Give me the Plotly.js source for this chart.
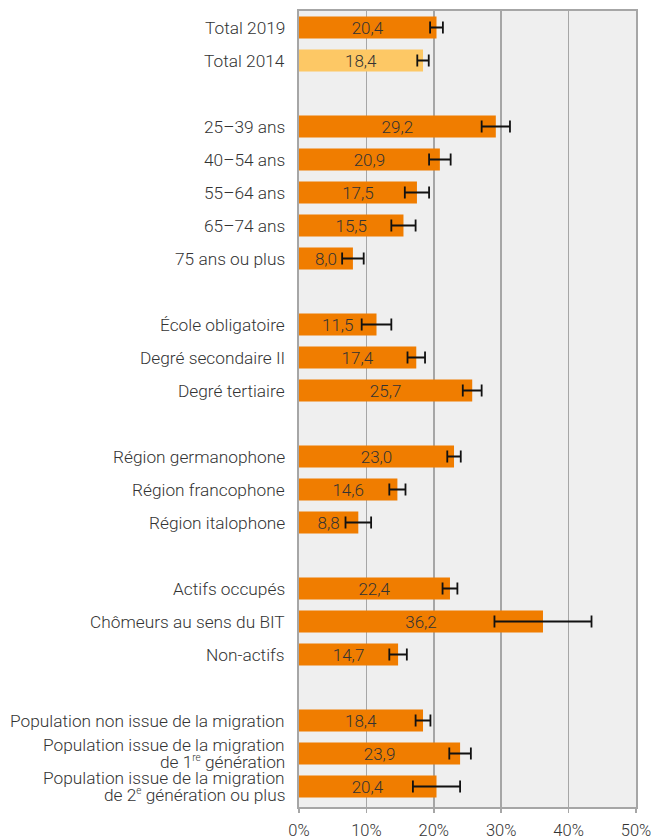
<!DOCTYPE html>
<html>
<head>
<meta charset="utf-8">
<script src="https://cdn.plot.ly/plotly-3.0.1.min.js"></script>
<style>html,body{margin:0;padding:0;background:#fff;}#chart{width:652px;height:840px;}</style>
</head>
<body>
<div id="chart"></div>
<script>
const categories = [
  "Total 2019", "Total 2014", " ",
  "25–39 ans", "40–54 ans", "55–64 ans", "65–74 ans", "75 ans ou plus", "  ",
  "École obligatoire", "Degré secondaire II", "Degré tertiaire", "   ",
  "Région germanophone", "Région francophone", "Région italophone", "    ",
  "Actifs occupés", "Chômeurs au sens du BIT", "Non-actifs", "     ",
  "Population non issue de la migration",
  "Population issue de la migration<br>de 1<sup><span style=\"font-size:10px\">re</span></sup> génération",
  "Population issue de la migration<br>de 2<sup><span style=\"font-size:10px\">e</span></sup> génération ou plus"
];
const values = [
  20.4, 18.4, null,
  29.2, 20.9, 17.5, 15.5, 8.0, null,
  11.5, 17.4, 25.7, null,
  23.0, 14.6, 8.8, null,
  22.4, 36.2, 14.7, null,
  18.4, 23.9, 20.4
];
const errors = [
  0.95, 0.85, null,
  2.1, 1.6, 1.8, 1.8, 1.6, null,
  2.2, 1.3, 1.4, null,
  1.0, 1.2, 1.9, null,
  1.1, 7.2, 1.3, null,
  1.1, 1.6, 3.5
];
const highlight = ["Total 2014"];
const xTicks = [0, 10, 20, 30, 40, 50];
const xTickLabels = ["0%", "10%", "20%", "30%", "40%", "50%"];

const ORANGE = "#f07d00", LIGHT = "#fdc865";
const FONT = "Roboto, sans-serif";
const TXT = "#333333";
const colors = categories.map(c => highlight.includes(c) ? LIGHT : ORANGE);
const labels = values.map(v => v === null ? "" : v.toFixed(1).replace(".", ","));

const trace = {
  type: "bar",
  orientation: "h",
  y: categories,
  x: values,
  width: 0.66,
  marker: {color: colors, line: {width: 0}},
  text: labels,
  textposition: "inside",
  insidetextanchor: "middle",
  textangle: 0,
  constraintext: "none",
  textfont: {family: FONT, size: 17, color: TXT, weight: 300},
  error_x: {type: "data", array: errors, visible: true, color: "#111111", thickness: 1.8, width: 6},
  hoverinfo: "none",
  cliponaxis: false
};

// category labels as annotations (tight line spacing for two-line labels)
const annotations = [];
const LH = 17;
categories.forEach(c => {
  if (!c.trim()) return;
  const lines = c.split("<br>");
  lines.forEach((ln, i) => {
    annotations.push({
      xref: "paper", yref: "y", x: 0, y: c,
      xanchor: "right", yanchor: "middle",
      xshift: -12, yshift: ((lines.length - 1) / 2 - i) * LH,
      text: ln, showarrow: false,
      font: {family: FONT, size: 17.3, color: TXT, weight: 300}
    });
  });
});

const layout = {
  width: 652, height: 840,
  margin: {l: 299, r: 16, t: 11, b: 33, pad: 0},
  paper_bgcolor: "#ffffff",
  plot_bgcolor: "#efefef",
  showlegend: false,
  font: {family: FONT, size: 17, color: TXT, weight: 300},
  annotations: annotations,
  xaxis: {
    range: [0, 50], tickvals: xTicks, ticktext: xTickLabels,
    showgrid: true, gridcolor: "#a6a6a6", gridwidth: 1.5,
    showline: true, linecolor: "#a6a6a6", linewidth: 2, mirror: true,
    ticks: "outside", ticklen: 4, tickcolor: "#a6a6a6", tickwidth: 1.5,
    ticklabelstandoff: 3, automargin: false,
    zeroline: false, fixedrange: true,
    tickfont: {family: FONT, size: 16.5, color: TXT, weight: 300}
  },
  yaxis: {
    type: "category", categoryorder: "array", categoryarray: categories,
    autorange: "reversed", showgrid: false, zeroline: false,
    showline: true, linecolor: "#a6a6a6", linewidth: 2, mirror: true,
    ticks: "", showticklabels: false, fixedrange: true, automargin: false
  }
};

Plotly.newPlot("chart", [trace], layout, {displayModeBar: false, staticPlot: true});
</script>
</body>
</html>
